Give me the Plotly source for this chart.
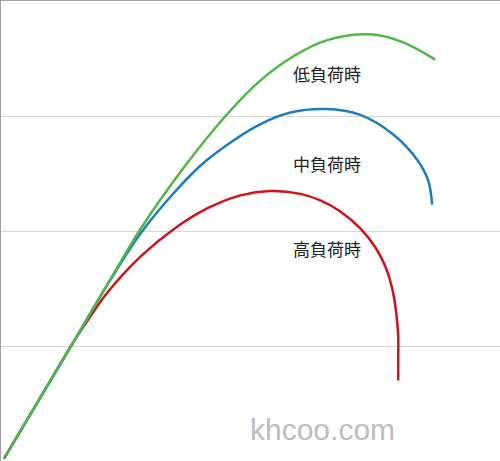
import plotly.graph_objects as go

# 回転数 (x) とトルク (y) の読み取り値
low_x = [0.6, 8.0, 14.6, 21.4, 28.0, 36.6, 45.0, 52.0, 58.6, 65.4, 74.0, 80.6, 87.0]
low_y = [0.02, 0.56, 1.04, 1.54, 2.02, 2.55, 3.0, 3.31, 3.52, 3.66, 3.71, 3.64, 3.49]

mid_x = [0.6, 8.0, 14.6, 21.4, 28.0, 34.0, 40.0, 46.0, 52.0, 58.0, 65.0, 72.0, 78.6, 83.4, 85.6, 86.4]
mid_y = [0.02, 0.56, 1.04, 1.54, 1.98, 2.30, 2.57, 2.77, 2.93, 3.03, 3.06, 3.01, 2.84, 2.62, 2.44, 2.23]

high_x = [0.6, 8.0, 14.6, 18.0, 21.4, 28.0, 34.6, 41.4, 48.0, 54.0, 60.0, 64.0, 68.0,
          72.0, 75.0, 77.0, 78.4, 79.2, 79.6, 79.6, 79.6]
high_y = [0.02, 0.56, 1.04, 1.263, 1.469, 1.779, 2.016, 2.198, 2.310, 2.348, 2.323, 2.266, 2.170,
          2.023, 1.859, 1.694, 1.499, 1.290, 1.082, 0.90, 0.70]

labels = ["低負荷時", "中負荷時", "高負荷時"]
label_x = [65.4, 65.4, 65.4]
label_y = [3.37, 2.59, 1.85]

fig = go.Figure()
for xs, ys, color in [(high_x, high_y, "#d0121b"),
                      (mid_x, mid_y, "#1b7cc2"),
                      (low_x, low_y, "#4cb843")]:
    fig.add_trace(go.Scatter(x=xs, y=ys, mode="lines",
                             line=dict(color=color, width=2.5, shape="spline", smoothing=1.0),
                             showlegend=False, hoverinfo="skip"))

for t, x, y in zip(labels, label_x, label_y):
    fig.add_annotation(x=x, y=y, text=t, showarrow=False,
                       font=dict(family="Noto Sans CJK JP", size=17, color="#222222"))

fig.add_annotation(x=64.4, y=0.27, text="khcoo.com", showarrow=False,
                   font=dict(family="Liberation Sans", size=30, color="#bdbdbd"))

fig.update_layout(
    width=500, height=461,
    margin=dict(l=1, r=0, t=1, b=0),
    paper_bgcolor="white", plot_bgcolor="white",
    xaxis=dict(range=[0, 100], showgrid=False, zeroline=False, showticklabels=False,
               ticks="", side="top", showline=True, linecolor="#a0a0a0", linewidth=1.5),
    yaxis=dict(range=[0, 4], tickvals=[1, 2, 3], showgrid=True, gridcolor="#d6d6d6",
               gridwidth=1, zeroline=False, showticklabels=False, ticks="",
               showline=True, linecolor="#a0a0a0", linewidth=1.5),
)

fig.write_html("out.html", config={"displayModeBar": False},
               post_script="document.body.style.margin='0';")
